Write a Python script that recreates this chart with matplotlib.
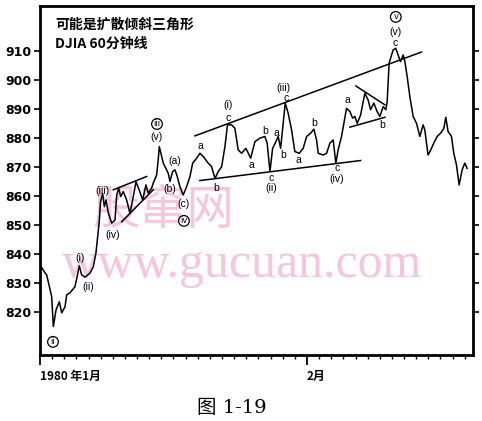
import numpy as np
import matplotlib
matplotlib.use("Agg")
import matplotlib.pyplot as plt

# DJIA hourly, x in trading days from 1980-01-01
days = [0.11, 0.41, 0.55, 0.96, 1.10, 1.32, 1.59, 1.79, 2.06, 2.20, 2.47, 2.88, 3.05, 3.24,
        3.43, 3.71, 4.12, 4.39, 4.61, 4.72, 4.88, 4.99, 5.16, 5.30, 5.44, 5.63, 5.91, 6.18,
        6.32, 6.48, 6.65, 6.86, 7.14, 7.41, 7.69, 7.91, 8.18, 8.46, 8.73, 8.92, 9.20, 9.33,
        9.61, 9.74, 9.83, 10.16, 10.57, 10.71, 10.93, 11.12, 11.31, 11.53, 11.80, 12.08,
        12.36, 12.58, 12.91, 13.18, 13.45, 13.86, 14.14, 14.42, 14.69, 14.97, 15.24, 15.45,
        15.79, 16.06, 16.33, 16.61, 16.97, 17.16, 17.36, 17.71, 18.12, 18.53, 18.72, 18.95,
        19.17, 19.44, 19.63, 19.83, 20.04, 20.21, 20.45, 20.73, 21.00, 21.36, 21.69, 21.97,
        22.30, 22.57, 22.79, 22.93, 23.34, 23.62, 23.89, 24.16, 24.38, 24.57, 24.85, 25.12,
        25.26, 25.54, 25.76, 25.95, 26.14, 26.42, 26.77, 27.04, 27.24, 27.51, 27.78, 28.01,
        28.28, 28.50, 28.61, 28.77, 29.10, 29.32, 29.51, 29.71, 29.93, 30.07, 30.26, 30.48,
        30.75, 31.03, 31.30, 31.57, 31.71, 31.98, 32.21, 32.45, 32.73, 33.01, 33.28, 33.44,
        33.63, 33.91, 34.10, 34.32, 34.54, 34.79, 35.01, 35.20]
price = [835.5, 833.5, 832.8, 825.3, 815.0, 820.7, 823.5, 819.7, 821.8, 825.9, 826.6, 828.7,
         832.0, 835.9, 832.8, 832.0, 833.4, 835.6, 840.3, 844.8, 851.1, 858.0, 860.9, 856.3,
         858.6, 854.1, 850.6, 851.7, 860.3, 862.7, 859.8, 861.5, 858.6, 854.0, 859.8, 864.9,
         862.0, 858.6, 863.8, 860.9, 862.7, 864.4, 867.2, 872.4, 877.0, 871.3, 867.8, 865.0,
         868.4, 869.0, 866.7, 863.2, 860.3, 863.2, 866.7, 871.3, 873.0, 874.7, 873.6, 871.3,
         870.1, 866.0, 868.4, 870.1, 877.0, 884.5, 884.5, 883.3, 875.9, 874.7, 876.4, 874.7,
         873.0, 878.7, 879.9, 880.5, 878.2, 868.4, 876.4, 878.7, 880.5, 876.4, 885.0, 892.0,
         888.5, 882.8, 875.3, 874.7, 876.4, 880.5, 881.6, 883.0, 879.3, 874.7, 874.1, 874.7,
         878.2, 879.3, 871.3, 875.9, 880.5, 886.8, 890.2, 889.1, 886.8, 887.4, 885.0, 887.9,
         895.4, 893.1, 889.7, 892.0, 889.1, 887.4, 890.8, 889.7, 892.5, 905.8, 910.3, 910.9,
         908.6, 906.3, 908.6, 906.3, 901.1, 894.2, 887.4, 885.0, 880.5, 884.5, 882.8, 874.1,
         875.9, 878.2, 880.5, 881.6, 883.3, 887.1, 882.2, 880.5, 874.7, 870.7, 863.8, 869.0,
         871.3, 869.5]

# trend lines: (x0, y0, x1, y1)
trend_lines = [
    (12.77, 880.7, 31.44, 909.6),
    (13.18, 865.3, 26.42, 872.2),
    (6.04, 862.1, 8.79, 866.7),
    (6.73, 851.1, 9.33, 862.1),
    (26.03, 897.9, 28.42, 891.4),
    (25.54, 883.7, 28.42, 887.1),
]

# wave labels: (text, x, y, circled)
wave_labels = [
    ("(i)", 3.29, 838.6, False), ("(ii)", 3.95, 828.6, False), ("ii", 1.07, 809.7, True),
    ("(iii)", 5.11, 861.7, False), ("(iv)", 6.01, 846.6, False),
    ("iii", 9.64, 884.8, True), ("(v)", 9.64, 880.3, False),
    ("(a)", 11.12, 872.1, False), ("(b)", 10.70, 862.4, False), ("(c)", 11.85, 857.3, False),
    ("iv", 11.86, 851.4, True),
    ("a", 13.18, 877.2, False), ("b", 14.50, 862.8, False),
    ("(i)", 15.49, 891.4, False), ("c", 15.49, 886.9, False),
    ("a", 17.38, 870.7, False), ("b", 18.53, 882.4, False),
    ("c", 19.03, 866.2, False), ("(ii)", 19.03, 862.8, False),
    ("a", 19.52, 881.7, False), ("b", 20.02, 874.1, False),
    ("(iii)", 20.02, 897.2, False), ("c", 20.26, 893.8, False),
    ("a", 21.33, 872.4, False), ("b", 22.57, 885.2, False),
    ("c", 24.46, 869.7, False), ("(iv)", 24.46, 865.9, False),
    ("a", 25.29, 893.1, False), ("b", 28.17, 884.5, False),
    ("v", 29.32, 921.7, True), ("(v)", 29.32, 916.6, False), ("c", 29.24, 912.8, False),
]

yticks = [820, 830, 840, 850, 860, 870, 880, 890, 900, 910]
month_ticks = [0, 22]
month_labels = ["1980 年1月", "2月"]

cjk = ['Noto Sans CJK SC', 'DejaVu Sans']

fig = plt.figure(figsize=(4.82, 4.21), dpi=100)
ax = fig.add_axes([0.083, 0.157, 0.898, 0.829])
ax.patch.set_visible(False)

ax.plot(days, price, color='black', lw=1.1)
for x0, y0, x1, y1 in trend_lines:
    ax.plot([x0, x1], [y0, y1], color='black', lw=1.1)

for txt, x, y, circ in wave_labels:
    if circ:
        ax.text(x, y, txt, ha='center', va='center', fontsize=6, family='DejaVu Sans',
                bbox=dict(boxstyle='circle,pad=0.1', fc='white', ec='black', lw=0.9))
    else:
        ax.text(x, y, txt, ha='center', va='center', fontsize=7.5, family='Liberation Sans')

ax.set_xlim(0, 35.67)
ax.set_ylim(805.2, 925.5)

ax.set_yticks(yticks)
ax.set_yticklabels([str(v) for v in yticks], fontsize=9, fontweight='bold', family='DejaVu Sans')
ax.tick_params(axis='y', direction='out', length=4, width=1.2, pad=2, right=True)
ax.tick_params(axis='y', which='both', labelright=False)

ax.set_xticks(month_ticks)
ax.set_xticklabels(month_labels, fontsize=8.5, fontweight='bold', family=cjk, ha='left')
ax.set_xticks(np.arange(0, 36, 1), minor=True)
ax.tick_params(axis='x', which='major', direction='out', length=7, width=1.3, pad=4)
ax.tick_params(axis='x', which='minor', direction='out', length=3, width=1.0)

for s in ax.spines.values():
    s.set_linewidth(2)

ax.text(0.035, 0.945, "可能是扩散倾斜三角形", transform=ax.transAxes, fontsize=10,
        fontweight='bold', family=cjk, va='center')
ax.text(0.035, 0.892, "DJIA 60分钟线", transform=ax.transAxes, fontsize=10,
        fontweight='bold', family=cjk, va='center')

# scan watermark
fig.text(0.338, 0.50, "股窜网", fontsize=34, color='#f8c6da', family=cjk, ha='center',
         va='center', zorder=-1)
fig.text(0.502, 0.37, "www.gucuan.com", fontsize=36, color='#f8c6da',
         family='Liberation Serif', ha='center', va='center', zorder=-1)

fig.text(0.48, 0.03, "图 1-19", fontsize=14, family=['DejaVu Serif', 'Noto Sans CJK SC'],
         ha='center', va='center')

fig.savefig("out.png", dpi=100)
